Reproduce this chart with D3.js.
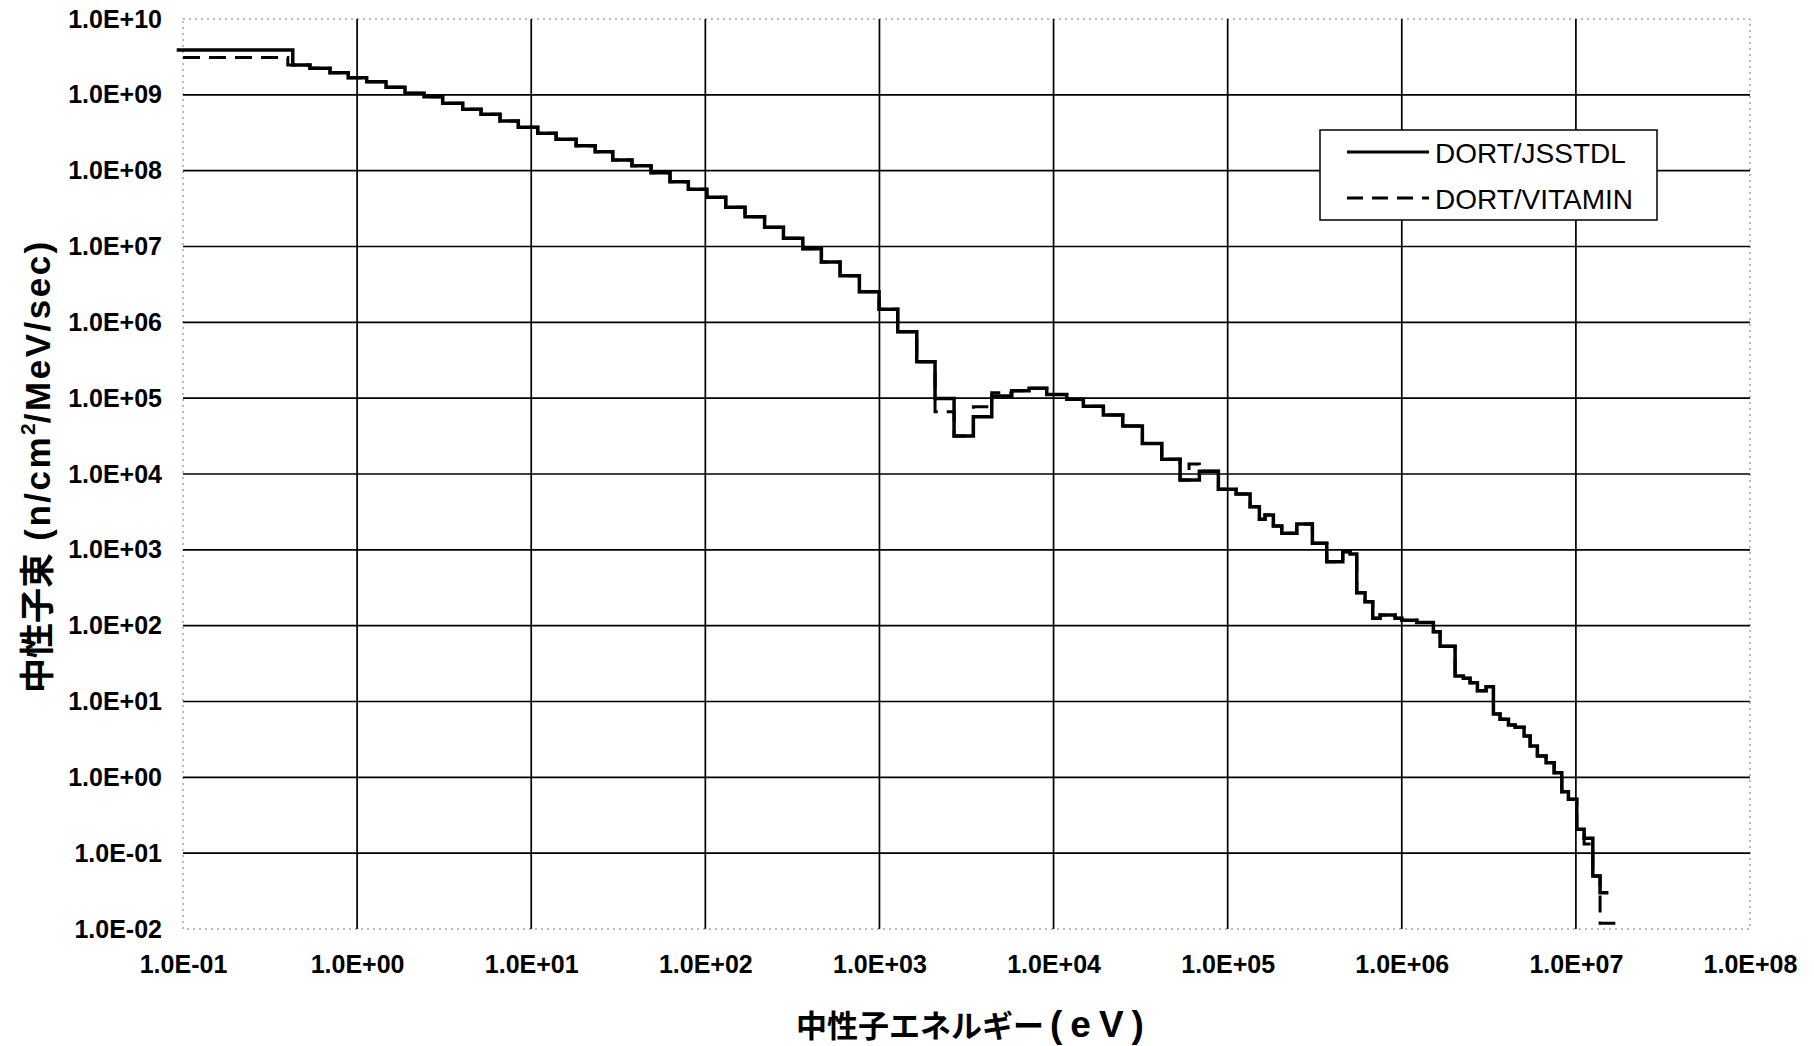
<!DOCTYPE html>
<html><head><meta charset="utf-8">
<script src="https://cdn.jsdelivr.net/npm/d3@7"></script>
<style>
html,body{margin:0;padding:0;background:#fff;}
svg{display:block;}
</style></head><body>
<svg id="chart" width="1814" height="1046"></svg>
<script>
// ---- data ----
const xTickValues = [1e-1, 1e0, 1e1, 1e2, 1e3, 1e4, 1e5, 1e6, 1e7, 1e8];
const yTickValues = [1e-2, 1e-1, 1e0, 1e1, 1e2, 1e3, 1e4, 1e5, 1e6, 1e7, 1e8, 1e9, 1e10];
const seriesNames = ["DORT/JSSTDL", "DORT/VITAMIN"];
const xTitleMain = "中性子エネルギー";
const xTitleUnit = "(eV)";
const yTitleCJK = "中性子束";
const yTitleMain = " (n/cm";
const yTitleSup = "2";
const yTitleRest = "/MeV/sec)";

// energy group boundaries (eV) and group flux (n/cm2/MeV/sec)
const jsstdlBounds = [0.092, 0.427, 0.536, 0.699, 0.890, 1.135, 1.466, 1.884, 2.423, 3.10, 4.04,
  5.15, 6.62, 8.43, 10.9, 13.9, 18.1, 23.3, 29.4, 37.9, 48.8,
  62.7, 79.9, 102, 131, 169, 219, 281, 363, 464, 594,
  767, 995, 1274, 1638, 2086, 2683, 3463, 4416, 5754, 7232,
  9141, 11905, 14833, 19324, 24976, 32370, 41830, 53300, 68770, 88430,
  111770, 134510, 152110, 163920, 183000, 204600, 249500, 306600, 370900, 458300,
  504700, 551400, 615300, 681400, 750500, 915300, 1.0e6, 1.22e6, 1.519e6, 1.66e6,
  2.024e6, 2.258e6, 2.468e6, 2.719e6, 3.05e6, 3.36e6, 3.67e6, 4.10e6, 4.48e6, 5.04e6,
  5.46e6, 6.01e6, 6.74e6, 7.50e6, 8.30e6, 9.06e6, 1.012e7, 1.115e7, 1.251e7, 1.377e7,
  1.537e7];
const jsstdlFlux = [3.9e9, 2.47e9, 2.24e9, 1.96e9, 1.68e9, 1.49e9, 1.26e9, 1.05e9, 9.45e8, 7.73e8,
  6.44e8, 5.54e8, 4.52e8, 3.73e8, 3.11e8, 2.59e8, 2.13e8, 1.78e8, 1.38e8, 1.16e8,
  9.4e7, 7.15e7, 5.68e7, 4.45e7, 3.29e7, 2.47e7, 1.79e7, 1.28e7, 9.35e6, 6.25e6,
  4.12e6, 2.53e6, 1.49e6, 7.52e5, 3.03e5, 9.9e4, 3.17e4, 5.7e4, 1.07e5, 1.25e5,
  1.35e5, 1.12e5, 9.7e4, 7.8e4, 6.0e4, 4.29e4, 2.52e4, 1.56e4, 8.33e3, 1.09e4,
  6.28e3, 5.45e3, 3.70e3, 2.53e3, 2.88e3, 2.06e3, 1.65e3, 2.19e3, 1.22e3, 697,
  944, 881, 272, 207, 125, 138, 125, 118, 110, 83.2,
  53.4, 21.7, 20.2, 17.7, 13.9, 15.7, 6.83, 5.82, 4.89, 4.56,
  3.50, 2.59, 1.91, 1.56, 1.15, 0.646, 0.513, 0.206, 0.157, 0.05,
  0.030];

const vitaminBounds = [0.1, 0.40, 0.536, 0.699, 0.890, 1.135, 1.466, 1.884, 2.423, 3.10, 4.04,
  5.15, 6.62, 8.43, 10.9, 13.9, 18.1, 23.3, 29.4, 37.9, 48.8,
  62.7, 79.9, 102, 131, 169, 219, 281, 363, 464, 594,
  767, 995, 1274, 1638, 2086, 2683, 3463, 4416, 5754, 7232,
  9141, 11905, 14833, 19324, 24976, 32370, 41830, 53300, 60000, 68770, 88430,
  111770, 134510, 152110, 163920, 183000, 204600, 249500, 306600, 370900, 458300,
  504700, 551400, 615300, 681400, 750500, 915300, 1.0e6, 1.22e6, 1.519e6, 1.66e6,
  2.024e6, 2.258e6, 2.468e6, 2.719e6, 3.05e6, 3.36e6, 3.67e6, 4.10e6, 4.48e6, 5.04e6,
  5.46e6, 6.01e6, 6.74e6, 7.50e6, 8.30e6, 9.06e6, 1.012e7, 1.115e7, 1.251e7, 1.377e7,
  1.748e7];
const vitaminFlux = [3.1e9, 2.47e9, 2.24e9, 1.96e9, 1.68e9, 1.49e9, 1.26e9, 1.05e9, 9.45e8, 7.73e8,
  6.44e8, 5.54e8, 4.52e8, 3.73e8, 3.11e8, 2.59e8, 2.13e8, 1.78e8, 1.38e8, 1.16e8,
  9.4e7, 7.15e7, 5.68e7, 4.45e7, 3.29e7, 2.47e7, 1.79e7, 1.28e7, 9.35e6, 6.25e6,
  4.12e6, 2.53e6, 1.49e6, 7.52e5, 3.03e5, 6.6e4, 3.17e4, 7.7e4, 1.18e5, 1.25e5,
  1.35e5, 1.12e5, 9.7e4, 7.8e4, 6.0e4, 4.29e4, 2.52e4, 1.56e4, 8.33e3, 1.35e4, 1.09e4,
  6.28e3, 5.45e3, 3.70e3, 2.53e3, 2.88e3, 2.06e3, 1.65e3, 2.19e3, 1.22e3, 697,
  944, 881, 272, 207, 125, 138, 125, 118, 110, 83.2,
  53.4, 21.7, 20.2, 17.7, 13.9, 15.7, 6.83, 5.82, 4.89, 4.56,
  3.50, 2.59, 1.91, 1.56, 1.15, 0.646, 0.513, 0.206, 0.132, 0.05,
  0.0119];

// ---- layout ----
const W = 1814, H = 1046;
const plot = {left: 183, right: 1750, top: 19, bottom: 929};
const FONT = "'Liberation Sans', Arial, 'Noto Sans CJK JP', sans-serif";

const svg = d3.select("#chart");
svg.append("rect").attr("width", W).attr("height", H).attr("fill", "#fff");

const x = d3.scaleLog().domain([1e-1, 1e8]).range([plot.left, plot.right]);
const y = d3.scaleLog().domain([1e-2, 1e10]).range([plot.bottom, plot.top]);

function sci(v) {
  const e = Math.round(Math.log10(v));
  return "1.0E" + (e < 0 ? "-" : "+") + String(Math.abs(e)).padStart(2, "0");
}

// plot border (faint dotted)
svg.append("rect")
  .attr("x", plot.left).attr("y", plot.top)
  .attr("width", plot.right - plot.left).attr("height", plot.bottom - plot.top)
  .attr("fill", "none").attr("stroke", "#777").attr("stroke-width", 1)
  .attr("stroke-dasharray", "2,4");

// gridlines
const grid = svg.append("g").attr("stroke", "#000").attr("stroke-width", 1.7);
grid.selectAll("line.v").data(xTickValues.slice(1, -1)).join("line")
  .attr("class", "v")
  .attr("x1", d => x(d)).attr("x2", d => x(d))
  .attr("y1", plot.top).attr("y2", plot.bottom);
grid.selectAll("line.h").data(yTickValues.slice(1, -1)).join("line")
  .attr("class", "h")
  .attr("y1", d => y(d)).attr("y2", d => y(d))
  .attr("x1", plot.left).attr("x2", plot.right);

// axes (labels only)
const xAxis = d3.axisBottom(x).tickValues(xTickValues).tickFormat(sci).tickSize(0).tickPadding(26);
const gx = svg.append("g").attr("transform", `translate(0,${plot.bottom})`).call(xAxis);
const yAxis = d3.axisLeft(y).tickValues(yTickValues).tickFormat(sci).tickSize(0).tickPadding(21);
const gy = svg.append("g").attr("transform", `translate(${plot.left},0)`).call(yAxis);
[gx, gy].forEach(g => {
  g.select(".domain").remove();
  g.selectAll("text").attr("font-family", FONT).attr("font-size", 25)
    .attr("font-weight", "bold").attr("fill", "#000");
});

// step lines
function stepPoints(bounds, flux) {
  return bounds.map((e, i) => [e, flux[Math.min(i, flux.length - 1)]]);
}
const line = d3.line().x(d => x(d[0])).y(d => y(d[1])).curve(d3.curveStepAfter);

svg.append("path").datum(stepPoints(vitaminBounds, vitaminFlux))
  .attr("d", line).attr("fill", "none").attr("stroke", "#000")
  .attr("stroke-width", 3).attr("stroke-dasharray", "17,9");
svg.append("path").datum(stepPoints(jsstdlBounds, jsstdlFlux))
  .attr("d", line).attr("fill", "none").attr("stroke", "#000")
  .attr("stroke-width", 3.5).attr("stroke-linejoin", "miter");

// legend
const lg = svg.append("g");
lg.append("rect").attr("x", 1320).attr("y", 130).attr("width", 337).attr("height", 90)
  .attr("fill", "#fff").attr("stroke", "#000").attr("stroke-width", 1.5);
const legendRows = [
  {name: seriesNames[0], dash: null, y: 152},
  {name: seriesNames[1], dash: "16,9", y: 198}
];
legendRows.forEach(r => {
  lg.append("line").attr("x1", 1347).attr("x2", 1429).attr("y1", r.y).attr("y2", r.y)
    .attr("stroke", "#000").attr("stroke-width", 3)
    .attr("stroke-dasharray", r.dash);
  lg.append("text").attr("x", 1435).attr("y", r.y + 11)
    .attr("font-family", FONT).attr("font-size", 28).attr("fill", "#000")
    .text(r.name);
});

// x title
const xt = svg.append("text").attr("y", 1037)
  .attr("font-family", FONT).attr("font-weight", "bold").attr("fill", "#000");
xt.append("tspan").attr("x", 796).attr("font-size", 31).text(xTitleMain);
xt.append("tspan").attr("x", 1050).attr("font-size", 37).attr("letter-spacing", 8).text(xTitleUnit);

// y title
const yt = svg.append("text").attr("transform", "translate(50,693) rotate(-90)")
  .attr("font-family", FONT).attr("font-weight", "bold").attr("font-size", 35).attr("fill", "#000");
yt.append("tspan").text(yTitleCJK);
yt.append("tspan").attr("letter-spacing", 2.5).text(yTitleMain);
yt.append("tspan").attr("font-size", 21).attr("dy", -15).text(yTitleSup);
yt.append("tspan").attr("dy", 15).attr("letter-spacing", 2.5).text(yTitleRest);
</script>
</body></html>
